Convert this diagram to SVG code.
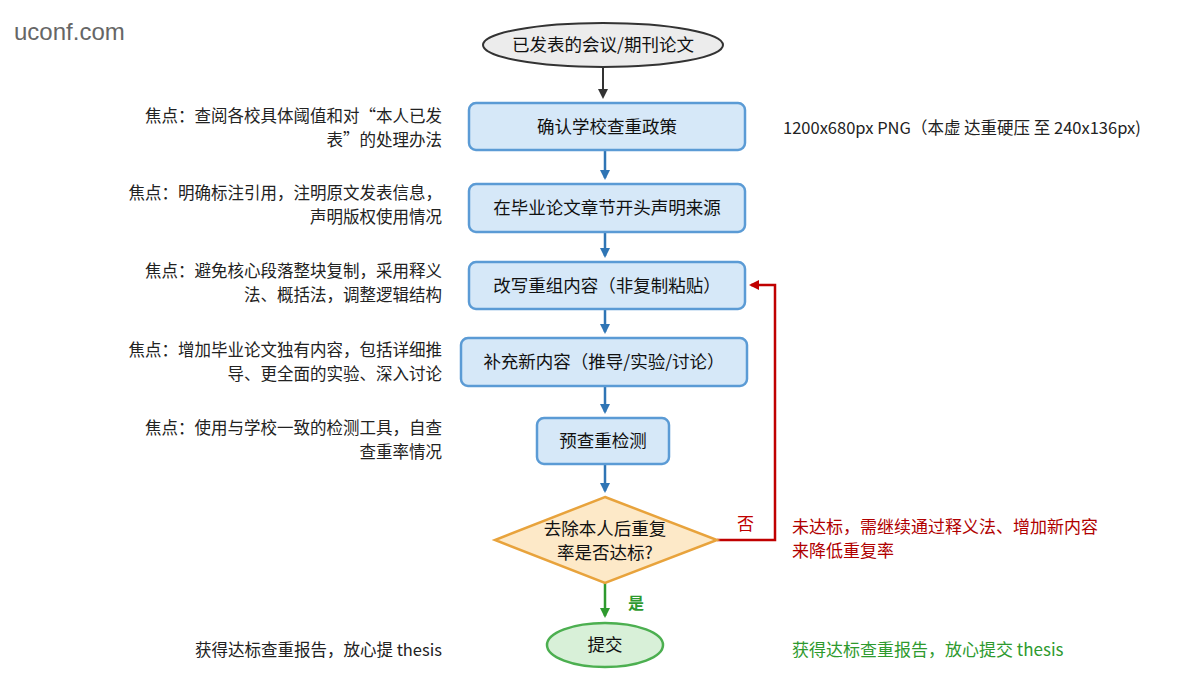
<svg xmlns="http://www.w3.org/2000/svg" width="1200" height="680" viewBox="0 0 1200 680">
<style>
text{font-family:"Noto Sans CJK SC","Noto Sans",sans-serif;}
.box{fill:#d6e8f8;stroke:#5b9bd5;stroke-width:2.5}
.t{font-size:17.5px;fill:#111;text-anchor:middle}
.n{font-size:16.5px;fill:#222;text-anchor:end}
.b{stroke:#2f75b5;stroke-width:2.5;fill:none;marker-end:url(#ab)}
</style>
<defs>
<marker id="ab" markerWidth="10" markerHeight="10" refX="8" refY="5" orient="auto" markerUnits="userSpaceOnUse"><path d="M0,0L10,5L0,10z" fill="#2f75b5"/></marker>
<marker id="ar" markerWidth="10" markerHeight="10" refX="8" refY="5" orient="auto" markerUnits="userSpaceOnUse"><path d="M0,0L10,5L0,10z" fill="#c00000"/></marker>
<marker id="ag" markerWidth="10" markerHeight="10" refX="8" refY="5" orient="auto" markerUnits="userSpaceOnUse"><path d="M0,0L10,5L0,10z" fill="#2e9a2e"/></marker>
<marker id="ak" markerWidth="10" markerHeight="10" refX="8" refY="5" orient="auto" markerUnits="userSpaceOnUse"><path d="M0,0L10,5L0,10z" fill="#333"/></marker>
</defs>
<rect width="1200" height="680" fill="#fff"/>
<text x="14" y="40" font-size="24" fill="#666" style="font-family:'Liberation Sans',sans-serif">uconf.com</text>
<text x="783" y="134" font-size="16.5" fill="#222">1200x680px PNG（本虚 达重硬压 至 240x136px)</text>
<g id="connectors">
<path d="M603,67V97" stroke="#333" stroke-width="2" marker-end="url(#ak)"/>
<path class="b" d="M605,150V178"/>
<path class="b" d="M605,232V256"/>
<path class="b" d="M605,309V332"/>
<path class="b" d="M605,386V412"/>
<path class="b" d="M605,464V491"/>
<path d="M605,583V616" stroke="#2e9a2e" stroke-width="2.5" fill="none" marker-end="url(#ag)"/>
<path d="M717,540H775V285H751" stroke="#c00000" stroke-width="2.5" fill="none" marker-end="url(#ar)"/>
<text x="628" y="609" font-size="16" fill="#2e9a2e" font-weight="bold">是</text>
<text x="737" y="530" font-size="17" fill="#c00000">否</text>
</g>
<g id="start"><ellipse cx="603" cy="45" rx="120" ry="22" fill="#ececec" stroke="#333" stroke-width="2"/><text class="t" x="603" y="51">已发表的会议/期刊论文</text></g>
<g id="n1"><rect class="box" x="469" y="103" width="276" height="47" rx="7"/><text class="t" x="607" y="133">确认学校查重政策</text></g>
<g id="n2"><rect class="box" x="469" y="184" width="276" height="48" rx="7"/><text class="t" x="607" y="214">在毕业论文章节开头声明来源</text></g>
<g id="n3"><rect class="box" x="469" y="262" width="276" height="47" rx="7"/><text class="t" x="607" y="292">改写重组内容（非复制粘贴）</text></g>
<g id="n4"><rect class="box" x="461" y="338" width="286" height="48" rx="7"/><text class="t" x="604" y="368">补充新内容（推导/实验/讨论）</text></g>
<g id="n5"><rect class="box" x="537" y="418" width="132" height="46" rx="7"/><text class="t" x="603" y="447">预查重检测</text></g>
<g id="d"><polygon points="605,497 717,540 605,583 495,540" fill="#fde9c8" stroke="#e8a33c" stroke-width="2.5"/><text class="t" x="605" y="535">去除本人后重复</text><text class="t" x="605" y="559">率是否达标?</text></g>
<g id="end"><ellipse cx="605" cy="645" rx="58" ry="22" fill="#d8f0d8" stroke="#4caf50" stroke-width="2.5"/><text class="t" x="605" y="651">提交</text></g>
<g id="notes">
<text class="n" x="442" y="122">焦点：查阅各校具体阈值和对“本人已发</text>
<text class="n" x="442" y="146">表”的处理办法</text>
<text class="n" x="442" y="199">焦点：明确标注引用，注明原文发表信息，</text>
<text class="n" x="442" y="223">声明版权使用情况</text>
<text class="n" x="442" y="277">焦点：避免核心段落整块复制，采用释义</text>
<text class="n" x="442" y="301">法、概括法，调整逻辑结构</text>
<text class="n" x="442" y="356">焦点：增加毕业论文独有内容，包括详细推</text>
<text class="n" x="442" y="380">导、更全面的实验、深入讨论</text>
<text class="n" x="442" y="434">焦点：使用与学校一致的检测工具，自查</text>
<text class="n" x="442" y="458">查重率情况</text>
<text class="n" x="442" y="656">获得达标查重报告，放心提 thesis</text>
<text x="792" y="533" font-size="17" fill="#b00000">未达标，需继续通过释义法、增加新内容</text>
<text x="792" y="557" font-size="17" fill="#b00000">来降低重复率</text>
<text x="792" y="656" font-size="17" fill="#2e9a2e">获得达标查重报告，放心提交 thesis</text>
</g>
</svg>
